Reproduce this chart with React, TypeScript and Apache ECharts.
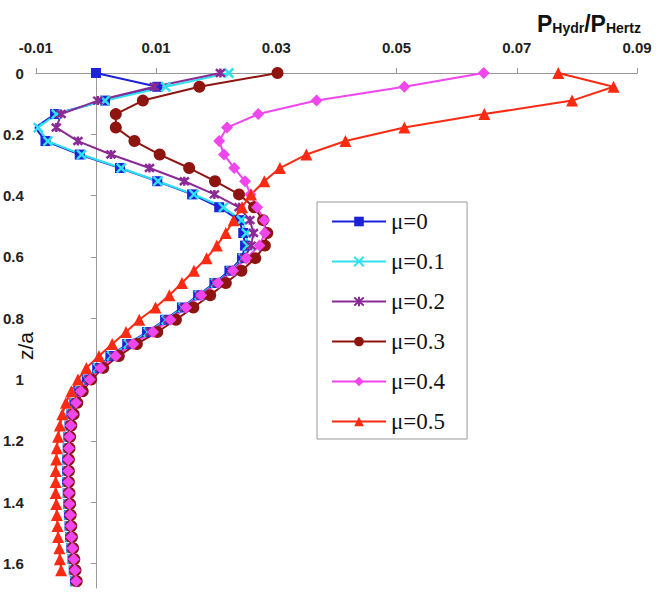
import React, { useEffect, useRef } from "react";
import * as echarts from "echarts";

// depth z/a shared by all series
const Z = [0, 0.045, 0.09, 0.134, 0.178, 0.222, 0.266, 0.31, 0.353, 0.396, 0.438, 0.48, 0.522, 0.563, 0.604, 0.645, 0.685, 0.725, 0.765, 0.805, 0.845, 0.884, 0.923, 0.962, 1.0, 1.038, 1.076, 1.113, 1.15, 1.187, 1.224, 1.261, 1.298, 1.334, 1.37, 1.406, 1.442, 1.478, 1.514, 1.55, 1.586, 1.622, 1.658];

const MU0 = [0, 0.0102, 0.0015, -0.0068, -0.0101, -0.0084, -0.0027, 0.004, 0.0102, 0.016, 0.0205, 0.0238, 0.0245, 0.0248, 0.0243,
  0.0222, 0.0197, 0.017, 0.0143, 0.0115, 0.0085, 0.0052, 0.0024, 0.0002, -0.0015,
  -0.0028, -0.0036, -0.0041, -0.0044, -0.0046, -0.0047, -0.0048, -0.0048, -0.0048, -0.0047, -0.0046, -0.0045, -0.0044, -0.0043, -0.0041, -0.0039, -0.0037, -0.0035];
const MU01 = [0.0221, 0.0116, 0.0015, -0.0066, -0.0096, -0.008, -0.0024, 0.0042, 0.0103, 0.0163, 0.0212, 0.0242, 0.025, 0.0252, 0.0245,
  0.0225, 0.0199, 0.0172, 0.0145, 0.0117, 0.0087, 0.0054, 0.0026, 0.0003, -0.0014,
  -0.0027, -0.0035, -0.0041, -0.0044, -0.0046, -0.0047, -0.0048, -0.0048, -0.0048, -0.0047, -0.0046, -0.0045, -0.0044, -0.0043, -0.0041, -0.0039, -0.0037, -0.0035];
const MU02 = [0.0207, 0.0097, 0.0003, -0.0058, -0.0066, -0.003, 0.0025, 0.0089, 0.0147, 0.0197, 0.0238, 0.0256, 0.0262, 0.0258, 0.0247,
  0.0226, 0.0201, 0.0174, 0.0147, 0.012, 0.009, 0.0058, 0.003, 0.0006, -0.0012,
  -0.0026, -0.0034, -0.004, -0.0043, -0.0045, -0.0046, -0.0047, -0.0047, -0.0047, -0.0046, -0.0045, -0.0044, -0.0043, -0.0042, -0.004, -0.0038, -0.0036, -0.0034];
const MU03 = [0.0302, 0.0172, 0.0078, 0.0033, 0.0033, 0.0064, 0.0106, 0.0155, 0.0198, 0.0238, 0.0263, 0.0278, 0.0285, 0.0281, 0.0265,
  0.0242, 0.0216, 0.019, 0.0162, 0.0133, 0.0102, 0.0068, 0.0038, 0.0012, -0.0008,
  -0.0022, -0.0031, -0.0037, -0.0041, -0.0043, -0.0044, -0.0045, -0.0045, -0.0045, -0.0044, -0.0043, -0.0042, -0.0041, -0.004, -0.0038, -0.0036, -0.0034, -0.0032];
const MU04 = [0.0645, 0.0513, 0.0367, 0.027, 0.0218, 0.0205, 0.0213, 0.023, 0.0248, 0.0257, 0.0268, 0.028, 0.0281, 0.0272, 0.025,
  0.0228, 0.0203, 0.0175, 0.015, 0.0124, 0.0095, 0.0062, 0.0033, 0.0008, -0.001,
  -0.0025, -0.0033, -0.0039, -0.0042, -0.0044, -0.0045, -0.0046, -0.0046, -0.0046, -0.0045, -0.0044, -0.0043, -0.0042, -0.0041, -0.0039, -0.0037, -0.0035, -0.0033];
const MU05 = [0.0769, 0.0861, 0.0792, 0.0646, 0.0513, 0.0415, 0.035, 0.0306, 0.028, 0.0258, 0.0243, 0.0229, 0.0216, 0.0201, 0.0184,
  0.0163, 0.0143, 0.0122, 0.0099, 0.0072, 0.005, 0.0027, 0.0005, -0.0016, -0.003,
  -0.0041, -0.005, -0.0056, -0.006, -0.0063, -0.0065, -0.0066, -0.0067, -0.0067, -0.0067, -0.0066, -0.0065, -0.0064, -0.0063, -0.0061, -0.006, -0.0058, null];

const NAMES = ["μ=0", "μ=0.1", "μ=0.2", "μ=0.3", "μ=0.4", "μ=0.5"];
const X_TICKS = [-0.01, 0.01, 0.03, 0.05, 0.07, 0.09];
const Y_TICKS = [0, 0.2, 0.4, 0.6, 0.8, 1, 1.2, 1.4, 1.6];

const CROSS = "path://M0,0L10,10M10,0L0,10";
const STAR = "path://M0,0L10,10M10,0L0,10M5,-1L5,11";

const pairs = (xs: (number | null)[]) =>
  Z.map((z, i) => [xs[i], z]).filter((p) => p[0] !== null);

export default function App() {
  const ref = useRef<HTMLDivElement>(null);
  useEffect(() => {
    if (!ref.current) return;
    const chart = echarts.init(ref.current, null, { renderer: "svg" });
    const mk = (name: string, xs: (number | null)[], color: string, symbol: string, size: number, stroked = false) => ({
      name,
      type: "line",
      data: pairs(xs),
      symbol,
      symbolSize: size,
      lineStyle: { color, width: 2 },
      itemStyle: stroked
        ? { color, borderColor: color, borderWidth: 2.5 }
        : { color, borderWidth: 0 },
    });
    const sans = "'Liberation Sans', Arial, sans-serif";
    const serifStyle = { fontFamily: "'Liberation Serif', 'DejaVu Serif', serif", fontSize: 23, color: "#111", lineHeight: 22 };
    chart.setOption({
      animation: false,
      backgroundColor: "#fff",
      title: {
        text: "{p|P}{s|Hydr}{p|/P}{s|Hertz}",
        left: 532,
        top: 2,
        textStyle: {
          rich: {
            p: { fontFamily: sans, fontSize: 23, color: "#111", verticalAlign: "bottom", lineHeight: 28 },
            s: { fontFamily: sans, fontSize: 14, fontWeight: "bold", color: "#111", verticalAlign: "bottom", lineHeight: 22, padding: [7, 0, 0, 0] },
          },
        },
      },
      graphic: [
        {
          type: "text",
          x: 25,
          y: 346,
          rotation: Math.PI / 2,
          style: {
            text: "z/a",
            fontFamily: sans,
            fontSize: 21,
            fill: "#111",
            align: "center",
            verticalAlign: "middle",
          },
        },
      ],
      legend: {
        orient: "vertical",
        left: 317,
        top: 202,
        itemWidth: 54,
        itemHeight: 12,
        itemGap: 17,
        padding: [8, 22, 6, 14],
        borderColor: "#999",
        borderWidth: 1,
        backgroundColor: "#fff",
        formatter: "{t|{name}}",
        textStyle: { ...serifStyle, rich: { t: serifStyle } },
        data: NAMES.map((n) => ({ name: n, textStyle: serifStyle })),
      },
      grid: { left: 32, right: 33, top: 73, bottom: 4, containLabel: false },
      xAxis: {
        type: "value",
        position: "top",
        min: -0.01,
        max: 0.09,
        splitLine: { show: false },
        axisLine: { lineStyle: { color: "#999", width: 1 } },
        axisTick: { show: true, inside: false, length: 5, lineStyle: { color: "#999" }, customValues: X_TICKS },
        axisLabel: {
          customValues: X_TICKS,
          margin: 18,
          fontFamily: sans,
          fontWeight: "bold",
          fontSize: 15,
          color: "#222",
          formatter: (v: number) => String(Math.round(v * 100) / 100),
        },
      },
      yAxis: {
        type: "value",
        inverse: true,
        min: 0,
        max: 1.68,
        splitLine: { show: false },
        axisLine: { onZero: true, lineStyle: { color: "#999", width: 1 } },
        axisTick: { show: true, length: 5, lineStyle: { color: "#999" }, customValues: Y_TICKS },
        axisLabel: {
          customValues: Y_TICKS,
          margin: 12,
          fontFamily: sans,
          fontWeight: "bold",
          fontSize: 15,
          color: "#222",
          formatter: (v: number) => String(Math.round(v * 10) / 10),
        },
      },
      series: [
        mk(NAMES[0], MU0, "#1c22d8", "rect", 10),
        mk(NAMES[1], MU01, "#30e0ee", CROSS, 9, true),
        mk(NAMES[2], MU02, "#8a2a95", STAR, 9, true),
        mk(NAMES[3], MU03, "#8e1410", "circle", 12),
        mk(NAMES[4], MU04, "#f046ee", "diamond", 12),
        mk(NAMES[5], MU05, "#fb2a12", "triangle", 12),
      ],
    });
    return () => chart.dispose();
  }, []);
  return (
    <div
      ref={ref}
      style={{ position: "fixed", left: 0, top: 0, width: 670, height: 592, background: "#fff" }}
    />
  );
}
